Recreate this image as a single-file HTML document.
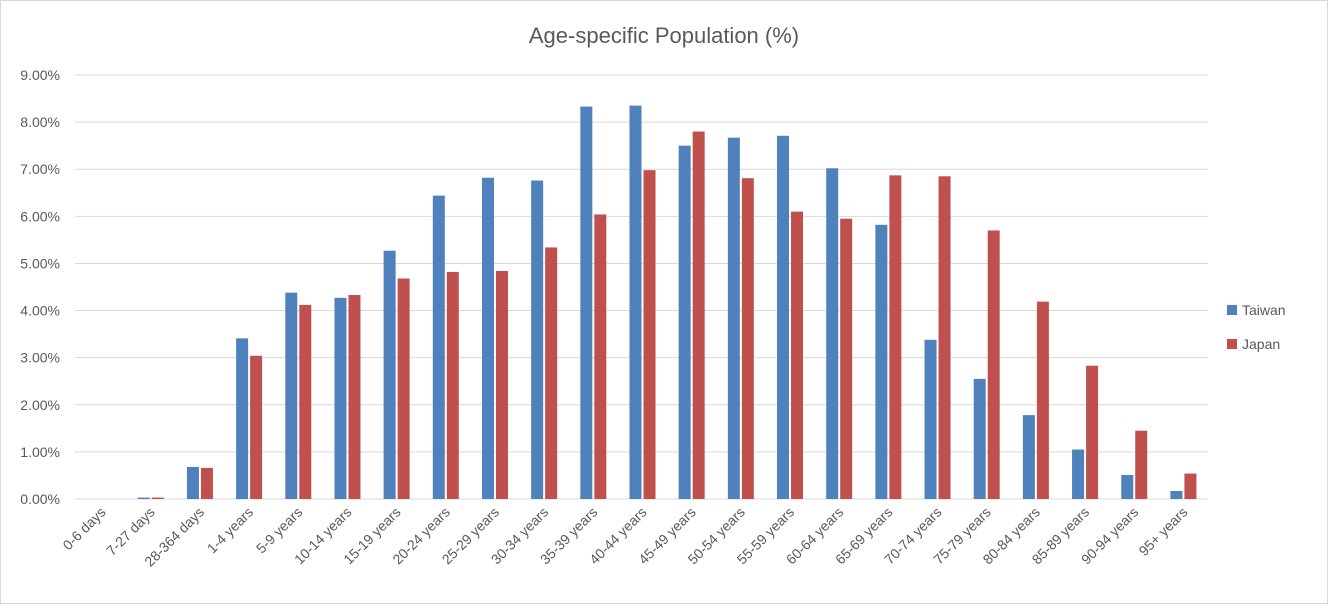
<!DOCTYPE html>
<html><head><meta charset="utf-8"><style>
html,body{margin:0;padding:0;background:#fff;}
svg{display:block;font-family:"Liberation Sans",Arial,sans-serif;}
</style></head><body>
<svg id="chart" width="1328" height="604">
<rect x="0.5" y="0.5" width="1327" height="603" fill="#fff" stroke="#d9d9d9"/>
<text x="664" y="43" text-anchor="middle" font-size="22" fill="#595959">Age-specific Population (%)</text>
<g id="grid"></g><g id="bars"></g><g id="xlabels"></g>
<g>
<rect x="1227" y="305" width="10" height="10" fill="#4f81bd"/>
<text x="1242" y="315" font-size="14" fill="#595959">Taiwan</text>
<rect x="1227" y="339" width="10" height="10" fill="#c0504d"/>
<text x="1242" y="349" font-size="14" fill="#595959">Japan</text>
</g>
</svg>
<script>
const categories=["0-6 days","7-27 days","28-364 days","1-4 years","5-9 years","10-14 years","15-19 years","20-24 years","25-29 years","30-34 years","35-39 years","40-44 years","45-49 years","50-54 years","55-59 years","60-64 years","65-69 years","70-74 years","75-79 years","80-84 years","85-89 years","90-94 years","95+ years"];
const taiwan=[0,0.03,0.68,3.41,4.38,4.27,5.27,6.44,6.82,6.76,8.33,8.35,7.50,7.67,7.71,7.02,5.82,3.38,2.55,1.78,1.05,0.51,0.17];
const japan=[0,0.03,0.66,3.04,4.12,4.33,4.68,4.82,4.84,5.34,6.04,6.98,7.80,6.81,6.10,5.95,6.87,6.85,5.70,4.19,2.83,1.45,0.54];
const ticks=[0,1,2,3,4,5,6,7,8,9];
const NS="http://www.w3.org/2000/svg";
const X0=77,X1=1208,Y0=499,Y9=75;
const band=(X1-X0)/categories.length;
const y=v=>Y0-(v/9)*(Y0-Y9);
const xc=i=>X0+band*(i+0.5);
function mk(t,a,p){const e=document.createElementNS(NS,t);for(const k in a)e.setAttribute(k,a[k]);p.appendChild(e);return e;}
const grid=document.getElementById('grid');
ticks.forEach(t=>{
 const l=mk('line',{x1:75,x2:X1,y1:y(t),y2:y(t),stroke:'#d9d9d9','stroke-width':1},grid);
 
 
 const tx=mk('text',{x:60,y:y(t)+5,'text-anchor':'end','font-size':14,fill:'#595959'},grid);
 tx.textContent=t.toFixed(2)+'%';
 
 
});
const bars=document.getElementById('bars'),xl=document.getElementById('xlabels');
const bw=12;
categories.forEach((c,i)=>{
 const cx=xc(i);
 const b1=mk('rect',{x:cx-bw-1,y:y(taiwan[i]),width:bw,height:Y0-y(taiwan[i]),fill:'#4f81bd'},bars);
 
 
 const b2=mk('rect',{x:cx+1,y:y(japan[i]),width:bw,height:Y0-y(japan[i]),fill:'#c0504d'},bars);
 
 
 const t=mk('text',{x:cx+5,y:513,'text-anchor':'end','font-size':14,fill:'#595959',transform:`rotate(-45 ${cx+5} 513)`},xl);
 t.textContent=c;
 
 
});
</script>
</body></html>
